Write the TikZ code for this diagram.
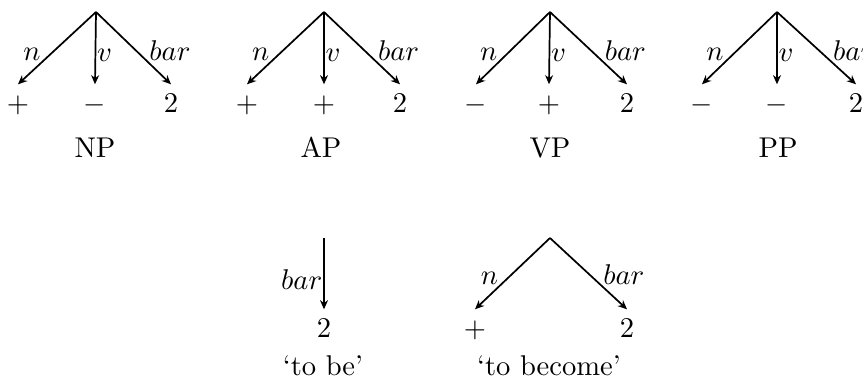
\documentclass[tikz,border=0pt]{standalone}
\usetikzlibrary{arrows.meta}

\tikzset{
    feat/.style = {-{Stealth[length=3.2pt,width=2.8pt]}, line width=0.6pt},
    val/.style = {anchor=base, text height=6.5pt, text depth=0pt, inner sep=3pt},
    lab/.style = {inner sep=0.3pt},
    cat/.style = {anchor=base}
}

\begin{document}
\begin{tikzpicture}[x=0.35pt, y=-0.35pt]
    \useasboundingbox (0,0) rectangle (863,385);

    % NP
        \coordinate (np) at (96,12);
        \node[val] (np-n) at (18,112) {$+$};
        \node[val] (np-v) at (95,112) {$-$};
        \node[val] (np-b) at (171,112) {$2$};
        \draw[feat] (np) -- (np-n.north) node[lab, above left, pos=0.69] {$n$};
        \draw[feat] (np) -- (np-v.north) node[lab, right, pos=0.6] {$v$};
        \draw[feat] (np) -- (np-b.north) node[lab, above right, pos=0.69] {$bar$};
        \node[cat] (np-cat) at (95,157) {NP};

    % AP
        \coordinate (ap) at (324,12);
        \node[val] (ap-n) at (247,112) {$+$};
        \node[val] (ap-v) at (324,112) {$+$};
        \node[val] (ap-b) at (400,112) {$2$};
        \draw[feat] (ap) -- (ap-n.north) node[lab, above left, pos=0.69] {$n$};
        \draw[feat] (ap) -- (ap-v.north) node[lab, right, pos=0.6] {$v$};
        \draw[feat] (ap) -- (ap-b.north) node[lab, above right, pos=0.69] {$bar$};
        \node[cat] (ap-cat) at (321,157) {AP};

    % VP
        \coordinate (vp) at (550,12);
        \node[val] (vp-n) at (476,112) {$-$};
        \node[val] (vp-v) at (549,112) {$+$};
        \node[val] (vp-b) at (627,112) {$2$};
        \draw[feat] (vp) -- (vp-n.north) node[lab, above left, pos=0.69] {$n$};
        \draw[feat] (vp) -- (vp-v.north) node[lab, right, pos=0.6] {$v$};
        \draw[feat] (vp) -- (vp-b.north) node[lab, above right, pos=0.69] {$bar$};
        \node[cat] (vp-cat) at (550,157) {VP};

    % PP
        \coordinate (pp) at (777,12);
        \node[val] (pp-n) at (702,112) {$-$};
        \node[val] (pp-v) at (777,112) {$-$};
        \node[val] (pp-b) at (856,112) {$2$};
        \draw[feat] (pp) -- (pp-n.north) node[lab, above left, pos=0.69] {$n$};
        \draw[feat] (pp) -- (pp-v.north) node[lab, right, pos=0.6] {$v$};
        \draw[feat] (pp) -- (pp-b.north) node[lab, above right, pos=0.69] {$bar$};
        \node[cat] (pp-cat) at (778,157) {PP};

    % 'to be'
        \coordinate (be) at (324,238);
        \node[val] (be-b) at (324,337) {$2$};
        \draw[feat] (be) -- (be-b.north) node[lab, left, pos=0.58] {$bar$};
        \node[cat] (be-cat) at (323,375) {`to be'};

    % 'to become'
        \coordinate (bec) at (550,238);
        \node[val] (bec-n) at (475,337) {$+$};
        \node[val] (bec-b) at (627,337) {$2$};
        \draw[feat] (bec) -- (bec-n.north) node[lab, above left, pos=0.67] {$n$};
        \draw[feat] (bec) -- (bec-b.north) node[lab, above right, pos=0.67] {$bar$};
        \node[cat] (bec-cat) at (549,375) {`to become'};

\end{tikzpicture}
\end{document}
